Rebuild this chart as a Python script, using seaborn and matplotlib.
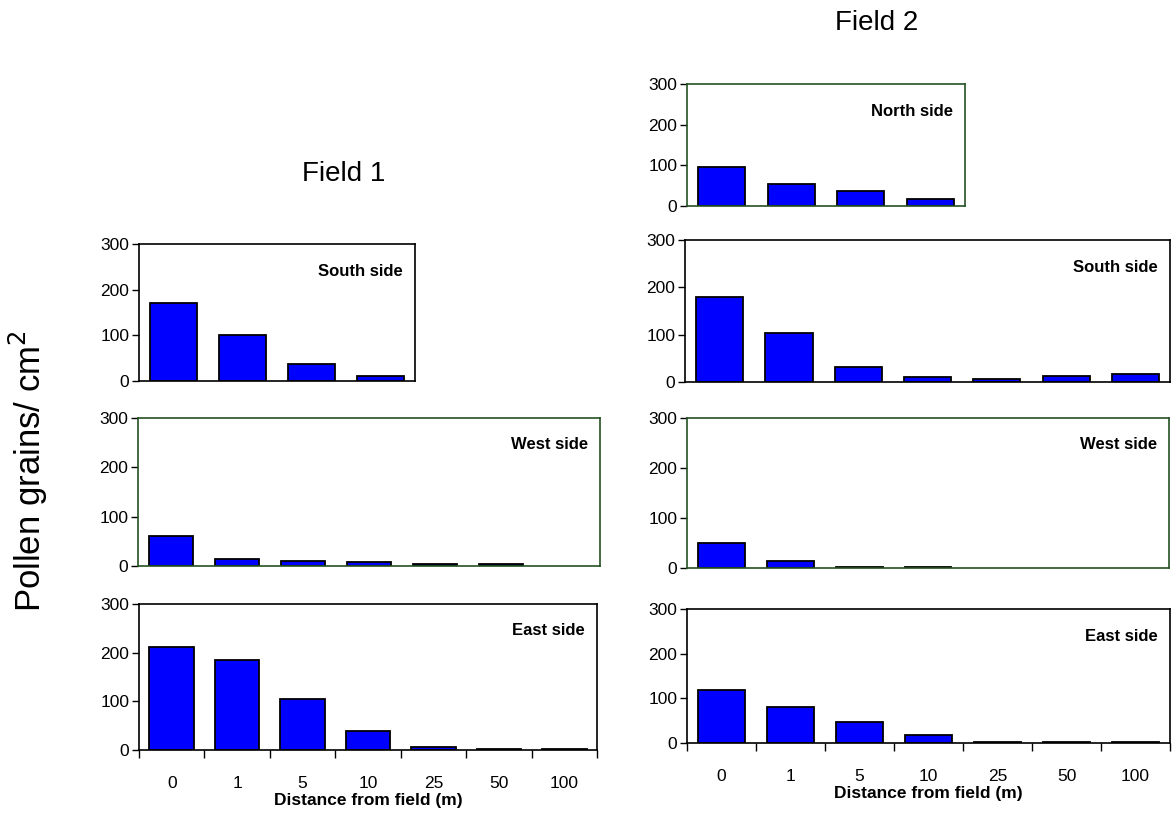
import numpy as np
import pandas as pd
import matplotlib
matplotlib.use("Agg")
import matplotlib.pyplot as plt
import seaborn as sns

# Distances (m) at which pollen traps were placed
distances = ["0", "1", "5", "10", "25", "50", "100"]

# Field 1 (pollen grains / cm2)
f1_south = [171, 100, 38, 12]
f1_west = [61, 15, 11, 8, 3, 3]
f1_east = [211, 184, 105, 39, 7, 3, 3]

# Field 2
f2_north = [96, 55, 36, 18]
f2_south = [180, 104, 32, 11, 7, 12, 16]
f2_west = [50, 15, 3, 3]
f2_east = [118, 80, 46, 17, 3, 3, 3]

yticks = [0, 100, 200, 300]

BLUE = "#0000ff"
GREEN = "#245224"

sns.set_style("white")
plt.rcParams["font.family"] = ["Liberation Sans", "DejaVu Sans"]
plt.rcParams.update({"text.color": "black", "axes.labelcolor": "black",
                     "xtick.color": "black", "ytick.color": "black"})

fig = plt.figure(figsize=(11.76, 8.14), dpi=100)

# name, values, number of slots, frame colour, bottom row?, axes rect
panels = [
    ("South side", f1_south, 4, "black", False, [0.1182, 0.5319, 0.2347, 0.1683]),
    ("West side", f1_west, 7, GREEN, False, [0.1173, 0.3047, 0.3929, 0.1818]),
    ("East side", f1_east, 7, "black", True, [0.1182, 0.0786, 0.3895, 0.1794]),
    ("North side", f2_north, 4, GREEN, False, [0.5842, 0.7469, 0.2364, 0.1499]),
    ("South side", f2_south, 7, "black", False, [0.5825, 0.5307, 0.4124, 0.1744]),
    ("West side", f2_west, 7, GREEN, False, [0.5842, 0.3022, 0.4099, 0.1843]),
    ("East side", f2_east, 7, "black", True, [0.5842, 0.0872, 0.4107, 0.1646]),
]

for name, vals, nslots, frame, bottom_row, rect in panels:
    ax = fig.add_axes(rect)
    order = distances[:nslots]
    df = pd.DataFrame({"dist": distances[:len(vals)], "pollen": vals})
    sns.barplot(data=df, x="dist", y="pollen", order=order, color=BLUE,
                width=0.68, edgecolor="black", linewidth=1.3, saturation=1,
                errorbar=None, ax=ax)
    ax.set_xlim(-0.5, nslots - 0.5)
    ax.set_ylim(0, 300)
    ax.set_yticks(yticks)
    ax.set_ylabel("")
    ax.tick_params(axis="y", left=True, length=5, width=1, labelsize=12.5, pad=2)
    for sp in ax.spines.values():
        sp.set_visible(True)
        sp.set_color(frame)
        sp.set_linewidth(1.2)
    if bottom_row:
        ax.spines["bottom"].set_color("black")
        ax.set_xticks(range(nslots))
        ax.set_xticklabels(order)
        ax.set_xticks(np.arange(nslots + 1) - 0.5, minor=True)
        ax.tick_params(axis="x", which="major", bottom=False, labelsize=12.5, pad=15)
        ax.tick_params(axis="x", which="minor", bottom=True, length=6, width=1)
        ax.set_xlabel("Distance from field (m)", fontsize=12.5, fontweight="bold", labelpad=2)
    else:
        ax.set_xticks([])
        ax.set_xlabel("")
    ax.annotate(name, xy=(1, 1), xycoords="axes fraction", xytext=(-12, -27),
                textcoords="offset pixels", ha="right", va="center",
                fontsize=12, fontweight="bold")

fig.text(344 / 1176, 1 - 174 / 814, "Field 1", fontsize=20, ha="center", va="center")
fig.text(877 / 1176, 1 - 23 / 814, "Field 2", fontsize=20, ha="center", va="center")
fig.text(28 / 1176, 1 - 471 / 814, "Pollen grains/ cm$^2$", fontsize=25,
         rotation=90, ha="center", va="center")

fig.savefig("out.png", dpi=100)
